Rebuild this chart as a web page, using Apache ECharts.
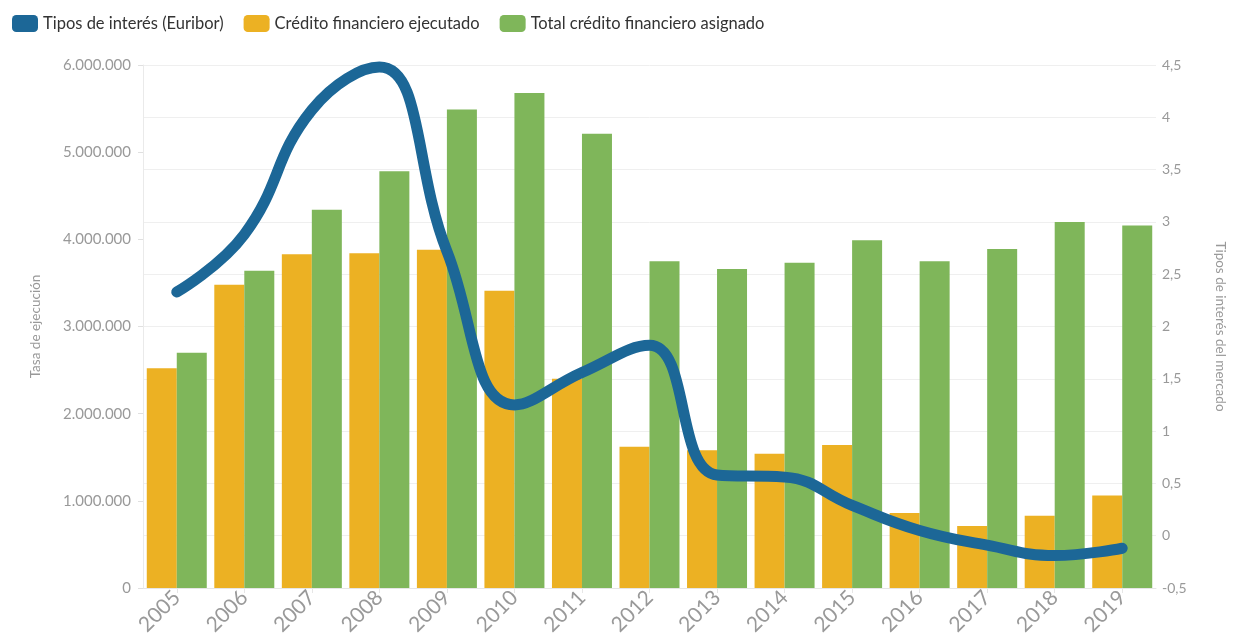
<!DOCTYPE html>
<html>
<head>
<meta charset="utf-8">
<script src="https://cdn.jsdelivr.net/npm/echarts@6/dist/echarts.min.js"></script>
<style>
  html, body { margin: 0; padding: 0; background: #fff; }
  #chart { width: 1238px; height: 640px; }
</style>
</head>
<body>
<div id="chart"></div>
<script>
// años
const years = ['2005', '2006', '2007', '2008', '2009', '2010', '2011', '2012',
  '2013', '2014', '2015', '2016', '2017', '2018', '2019']
// Crédito financiero ejecutado
const ejecutado = [2520000, 3480000, 3830000, 3840000, 3880000, 3410000, 2400000, 1620000,
  1580000, 1540000, 1640000, 860000, 710000, 830000, 1060000]
// Total crédito financiero asignado
const asignado = [2700000, 3640000, 4340000, 4780000, 5490000, 5680000, 5210000, 3750000,
  3660000, 3730000, 3990000, 3750000, 3890000, 4200000, 4160000]
// Tipos de interés (Euribor)
const euribor = [2.33, 2.88, 4.07, 4.48, 2.72, 1.25, 1.56, 1.82,
  0.58, 0.56, 0.29, 0.05, -0.09, -0.19, -0.12]

const colors = { line: '#1c6797', orange: '#ecb123', green: '#7fb65a' }
const font = 'Lato, "Open Sans", sans-serif'

const chart = echarts.init(document.getElementById('chart'))
const option = {
  backgroundColor: '#fff',
  animation: false,
  textStyle: { fontFamily: font },
  legend: {
    left: 7,
    top: 10,
    itemWidth: 26,
    itemHeight: 17,
    itemGap: 20,
    icon: 'roundRect',
    textStyle: { color: '#333', fontSize: 16.5, fontFamily: font },
    data: ['Tipos de interés (Euribor)', 'Crédito financiero ejecutado', 'Total crédito financiero asignado']
  },
  grid: { left: 143, right: 82, top: 65, bottom: 52 },
  xAxis: {
    type: 'category',
    data: years,
    axisLine: { show: true, lineStyle: { color: '#e6e6e6' } },
    axisTick: { show: true, alignWithLabel: true, length: 5, lineStyle: { color: '#e6e6e6' } },
    axisLabel: { rotate: 45, color: '#999', fontSize: 21, margin: 6, fontFamily: font }
  },
  yAxis: [{
    type: 'value',
    name: 'Tasa de ejecución',
    nameLocation: 'middle',
    nameGap: 100,
    nameTextStyle: { color: '#999', fontSize: 13.5 },
    min: 0,
    max: 6000000,
    interval: 1000000,
    axisLine: { show: true, lineStyle: { color: '#eaeaea' } },
    axisTick: { show: true, length: 5, lineStyle: { color: '#e0e0e0' } },
    splitLine: { show: false },
    axisLabel: {
      color: '#999',
      fontSize: 15,
      margin: 12,
      formatter: function (v) {
        return String(v).replace(/\B(?=(\d{3})+(?!\d))/g, '.')
      }
    }
  }, {
    type: 'value',
    name: 'Tipos de interés del mercado',
    nameLocation: 'middle',
    nameRotate: -90,
    nameGap: 57,
    nameTextStyle: { color: '#999', fontSize: 13.5 },
    min: -0.5,
    max: 4.5,
    interval: 0.5,
    axisLine: { show: false },
    axisTick: { show: false },
    splitLine: { show: true, lineStyle: { color: '#efefef' } },
    axisLabel: {
      color: '#999',
      fontSize: 14,
      margin: 6,
      formatter: function (v) {
        return String(v).replace('.', ',')
      }
    }
  }],
  series: [{
    name: 'Crédito financiero ejecutado',
    type: 'bar',
    data: ejecutado,
    barWidth: 30,
    barGap: 0,
    itemStyle: { color: colors.orange }
  }, {
    name: 'Total crédito financiero asignado',
    type: 'bar',
    data: asignado,
    barWidth: 30,
    barGap: 0,
    itemStyle: { color: colors.green }
  }, {
    name: 'Tipos de interés (Euribor)',
    type: 'line',
    yAxisIndex: 1,
    data: euribor,
    smooth: 0.45,
    showSymbol: false,
    symbol: 'none',
    z: 5,
    itemStyle: { color: colors.line },
    lineStyle: { color: colors.line, width: 11, cap: 'round', join: 'round' }
  }]
}
chart.setOption(option)
</script>
</body>
</html>
